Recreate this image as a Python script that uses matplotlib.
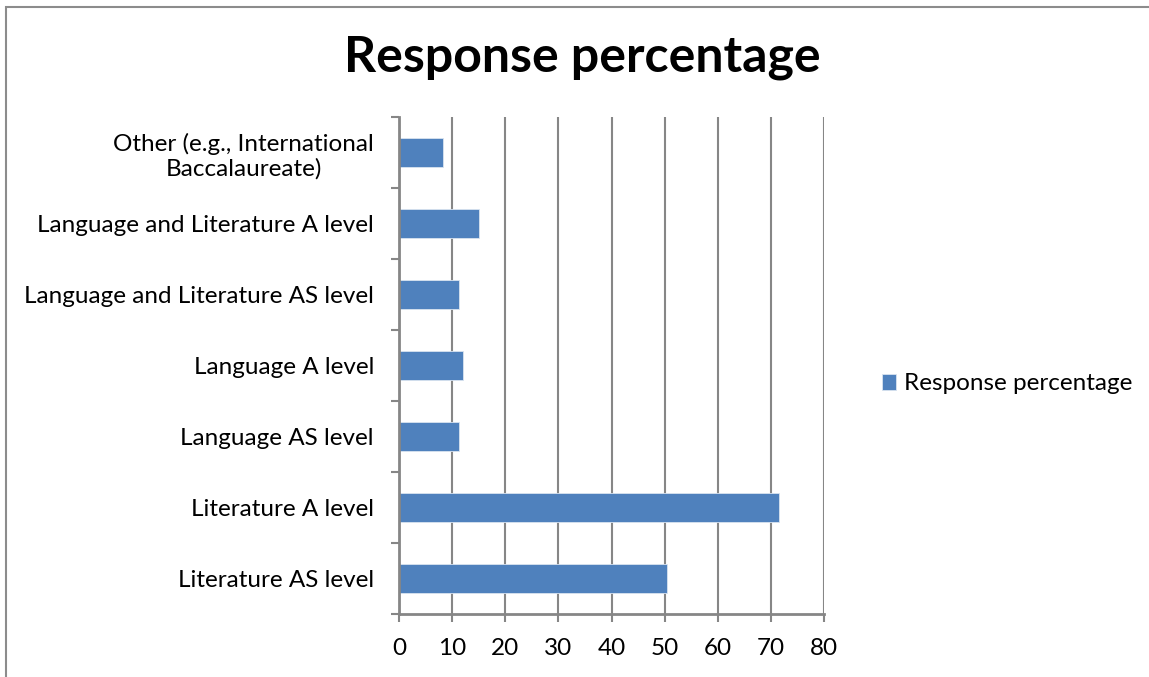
import matplotlib
matplotlib.use("Agg")
import matplotlib.pyplot as plt
from matplotlib.patches import Rectangle

categories = [
    "Literature AS level",
    "Literature A level",
    "Language AS level",
    "Language A level",
    "Language and Literature AS level",
    "Language and Literature A level",
    "Other (e.g., International\nBaccalaureate)",
]
values = [50.5, 71.5, 11.3, 12.1, 11.3, 15.1, 8.3]
xticks = [0, 10, 20, 30, 40, 50, 60, 70, 80]
series_name = "Response percentage"

plt.rcParams["font.family"] = ["Lato", "DejaVu Sans"]

W, H = 1149, 677
fig = plt.figure(figsize=(W / 100, H / 100), dpi=100)
ax = fig.add_axes([399 / W, 1 - 614 / H, (824 - 399) / W, (614 - 117) / H])

grid_col = "#868686"
bar_col = "#4F81BD"

pos = list(range(len(categories)))
ax.barh(pos, values, height=0.41, color=bar_col, edgecolor="#d9e3f0",
        linewidth=0.6, label=series_name, zorder=3)

ax.set_xlim(0, 80)
ax.set_ylim(-0.5, len(categories) - 0.5)
ax.set_xticks(xticks)
ax.set_xticklabels([str(t) for t in xticks], fontsize=17.5)
ax.set_yticks(pos)
ax.set_yticklabels(categories, fontsize=17.5, linespacing=1.2)
ax.tick_params(axis="y", length=0, pad=18)
ax.tick_params(axis="x", length=6, width=1.5, color=grid_col, pad=11)
# category boundary ticks on the y axis
ax.set_yticks([p - 0.5 for p in pos] + [len(categories) - 0.5], minor=True)
ax.tick_params(axis="y", which="minor", length=6, width=1.5, color=grid_col)
for lbl in ax.get_yticklabels():
    lbl.set_horizontalalignment("right")
    lbl.set_multialignment("center")

ax.grid(axis="x", color=grid_col, linewidth=1.5, zorder=0)
ax.set_axisbelow(True)
for side in ["top", "right"]:
    ax.spines[side].set_visible(False)
for side in ["left", "bottom"]:
    ax.spines[side].set_color(grid_col)
    ax.spines[side].set_linewidth(2)
    ax.spines[side].set_zorder(4)

fig.text(582 / W, 1 - 58 / H, series_name, fontsize=36, fontweight="bold",
         ha="center", va="center")

fig.legend(loc="center left", bbox_to_anchor=(872 / W, 1 - 384 / H),
           frameon=False, fontsize=17.5, handlelength=0.6, handleheight=0.6,
           handletextpad=0.3, borderaxespad=0)

# outer chart border (right and bottom edges lie outside the image)
fig.patches.append(Rectangle((6 / W, -0.05), 1.05, 1.05 - 7 / H,
                             transform=fig.transFigure, fill=False,
                             edgecolor="#8c8c8c", linewidth=1.5))

fig.savefig("out.png", dpi=100)
